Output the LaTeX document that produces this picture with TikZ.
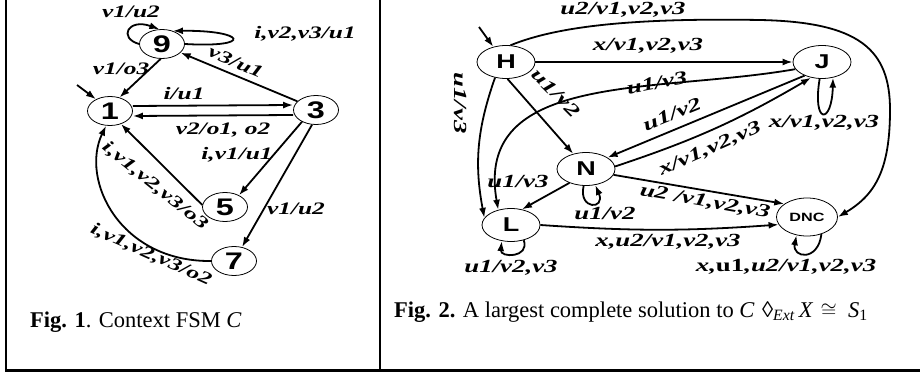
\documentclass[tikz,border=0pt]{standalone}
\usepackage{fontspec}
\setmainfont{Liberation Serif}
\newfontfamily\lblfont[FakeStretch=1.45]{Liberation Serif}
\newfontfamily\statefont[FakeStretch=1.35]{Liberation Sans}
\usetikzlibrary{arrows.meta,shapes.geometric}

\begin{document}
\begin{tikzpicture}[
  fsmstate/.style = {draw, ellipse, line width=0.8pt, inner sep=0pt, minimum width=45pt, minimum height=29pt,
                     font=\fontsize{24}{24}\selectfont\statefont\bfseries},
  solstate/.style = {fsmstate, minimum width=58pt, minimum height=33pt, font=\fontsize{20}{20}\selectfont\statefont\bfseries},
  solsmall/.style = {fsmstate, minimum width=61pt, minimum height=38pt, font=\fontsize{12}{12}\selectfont\statefont\bfseries},
  fsmlabel/.style = {inner sep=0pt, font=\fontsize{17.5}{17.5}\selectfont\lblfont\bfseries\itshape},
  sollabel/.style = {inner sep=0pt, font=\fontsize{18.5}{18.5}\selectfont\lblfont\bfseries\itshape},
  fsmcapt/.style  = {inner sep=0pt, anchor=west, font=\fontsize{22.5}{22.5}\selectfont},
  fsmlink/.style  = {-{Latex[length=10pt,width=7pt]}, line width=1.8pt},
  x=1pt, y=-1pt,
]
  \useasboundingbox (0,0) rectangle (920,374);

  % frame
  \draw[line width=2pt] (6,0) -- (6,370);
  \draw[line width=2.5pt] (380,0) -- (380,370);
  \draw[line width=3pt] (5,370) -- (920,370);

  % Fig. 1
  \node[fsmstate] (n9) at (162,44) {9};
  \node[fsmstate] (n1) at (110,111) {1};
  \node[fsmstate] (n3) at (316,110) {3};
  \node[fsmstate] (n5) at (225,207) {5};
  \node[fsmstate] (n7) at (234,261) {7};
  \coordinate (in1) at (77,85);

  \draw[fsmlink] (in1) -- (n1.140);
  \draw[fsmlink] (n9.west) .. controls (118,38) and (128,18) .. (n9.100);
  \draw[fsmlink] (n9.east) .. controls (255,48) and (245,30) .. (n9.50);
  \draw[fsmlink] (n9.-95) -- (n1.55);
  \draw[fsmlink] (n3.155) -- (n9.-25);
  \draw[fsmlink] ([yshift=5pt]n1.east) -- ([yshift=5pt]n3.west);
  \draw[fsmlink] ([yshift=-5pt]n3.west) -- ([yshift=-5pt]n1.east);
  \draw[fsmlink] (n3.-140) -- (n5.40);
  \draw[fsmlink] (n3.-105) -- (n7.60);
  \draw[fsmlink] (n5.175) -- (n1.-50);
  \draw[fsmlink] (n7.west) .. controls (120,262) and (80,180) .. (n1.-105);

  \node[fsmlabel] (l99a) at (131,12) {v1/u2};
  \node[fsmlabel] (l99b) at (305,34) {i,v2,v3/u1};
  \node[fsmlabel] (l91) at (121,69) {v1/o3};
  \node[fsmlabel, rotate=-23] (l39) at (236,62) {v3/u1};
  \node[fsmlabel] (l13) at (184,94) {i/u1};
  \node[fsmlabel] (l31) at (223,130) {v2/o1, o2};
  \node[fsmlabel] (l35) at (237,155) {i,v1/u1};
  \node[fsmlabel] (l37) at (296,209) {v1/u2};
  \node[fsmlabel, rotate=-39] (l51) at (155,186) {i,v1,v2,v3/o3};
  \node[fsmlabel, rotate=-24] (l71) at (151,255) {i,v1,v2,v3/o2};

  \node[fsmcapt] (cap1) at (30,322) {\textbf{Fig. 1}. Context FSM \textit{C}};

  % Fig. 2
  \node[solstate] (H) at (506,62) {H};
  \node[solstate] (J) at (822,62) {J};
  \node[solstate] (N) at (586,169) {N};
  \node[solstate] (L) at (511,225) {L};
  \node[solsmall] (DNC) at (807,217) {DNC};
  \coordinate (inH) at (479,27);

  \draw[fsmlink] (inH) -- (H.130);
  \draw[fsmlink] (H.75) .. controls (560,25) and (640,18) .. (760,20)
                        .. controls (860,22) and (890,50) .. (890,110)
                        .. controls (890,170) and (875,195) .. (DNC.east);
  \draw[fsmlink] (H) -- (J);
  \draw[fsmlink] (H.235) to[bend right=15] (L.165);
  \draw[fsmlink] (H.-85) -- (N.130);
  \draw[fsmlink] (J.195) to[out=190, in=100, looseness=1.1] (L.130);
  \draw[fsmlink] (J.218) -- (N.28);
  \draw[fsmlink] (N.5) to[bend right=6] (J.235);
  \draw[fsmlink] (J.262) .. controls (812,125) and (832,125) .. (J.305);
  \draw[fsmlink] (N.-140) -- (L.55);
  \draw[fsmlink] (N.262) .. controls (578,210) and (606,210) .. (N.300);
  \draw[fsmlink] (N.-12) -- (DNC.150);
  \draw[fsmlink] (L.east) to[bend right=4] (DNC.195);
  \draw[fsmlink] (L.-50) .. controls (530,258) and (500,258) .. (L.-120);
  \draw[fsmlink] (DNC.-50) .. controls (818,262) and (792,258) .. (DNC.-120);

  \node[sollabel] (lHD) at (623,10) {u2/v1,v2,v3};
  \node[sollabel] (lHJ) at (648,46) {x/v1,v2,v3};
  \node[sollabel, rotate=11] (lJL) at (657,83) {u1/v3};
  \node[sollabel, rotate=22] (lJN) at (672,114) {u1/v2};
  \node[sollabel, rotate=24] (lNJ) at (710,149) {x/v1,v2,v3};
  \node[sollabel] (lJJ) at (824,123) {x/v1,v2,v3};
  \node[sollabel, rotate=-45] (lHN) at (556,93) {u1/v2};
  \node[sollabel, rotate=-90] (lHL) at (461,103) {u1/v3};
  \node[sollabel] (lNL) at (518,181) {u1/v3};
  \node[sollabel] (lNN) at (605,213) {u1/v2};
  \node[sollabel, rotate=-10] (lND) at (705,202) {u2 /v1,v2,v3};
  \node[sollabel] (lLD) at (668,242) {x,u2/v1,v2,v3};
  \node[sollabel] (lLL) at (511,268) {u1/v2,v3};
  \node[sollabel] (lDD) at (786,267) {x,\textup{u1},u2/v1,v2,v3};

  \node[fsmcapt] (cap2) at (394,312) {\textbf{Fig. 2.} A largest complete solution to \textit{C}\,\,◊\textsubscript{\textit{Ext}}\,\textit{X}\,\,$\cong$\ \ \textit{S}\textsubscript{1}};
\end{tikzpicture}
\end{document}
